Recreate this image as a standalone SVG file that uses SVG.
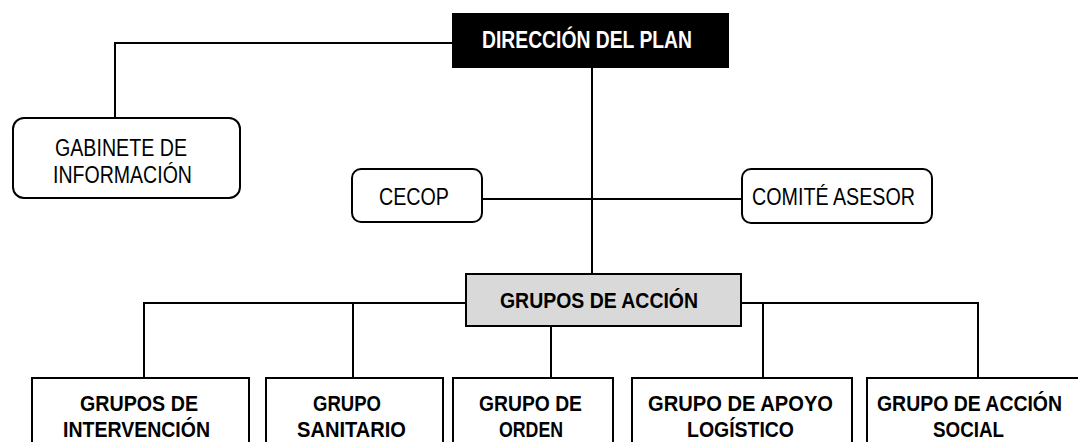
<svg xmlns="http://www.w3.org/2000/svg" width="1078" height="442" viewBox="0 0 1078 442">
<style>
.box{fill:#fff;stroke:#000;stroke-width:2}
.gray{fill:#d9d9d9;stroke:#000;stroke-width:2}
.blk{fill:#000;stroke:#000;stroke-width:2}
.t{font-family:"Liberation Sans",Arial,sans-serif;font-size:23px;fill:#000}
.b{font-family:"Liberation Sans",Arial,sans-serif;font-size:22px;font-weight:bold;fill:#000}
.w{font-family:"Liberation Sans",Arial,sans-serif;font-size:23px;font-weight:bold;fill:#fff}
.c{fill:none;stroke:#000;stroke-width:2}
</style>
<rect width="1078" height="442" fill="#fff"/>
<g id="connectors">
<polyline class="c" points="453,43 115,43 115,118"/>
<line class="c" x1="592" y1="67" x2="592" y2="274"/>
<line class="c" x1="482" y1="199" x2="742" y2="199"/>
<polyline class="c" points="466,303 144,303 144,378"/>
<line class="c" x1="353" y1="303" x2="353" y2="378"/>
<line class="c" x1="551" y1="326" x2="551" y2="378"/>
<polyline class="c" points="741,303 978,303 978,378"/>
<line class="c" x1="763" y1="303" x2="763" y2="378"/>
</g>
<g id="direccion">
<rect class="blk" x="453" y="14" width="275" height="53"/>
<text class="w" x="482" y="47.5" textLength="210" lengthAdjust="spacingAndGlyphs">DIRECCIÓN DEL PLAN</text>
</g>
<g id="gabinete">
<rect class="box" x="13" y="118" width="227" height="80" rx="11"/>
<text class="t" x="55" y="156" textLength="132" lengthAdjust="spacingAndGlyphs">GABINETE DE</text>
<text class="t" x="53" y="182.5" textLength="139" lengthAdjust="spacingAndGlyphs">INFORMACIÓN</text>
</g>
<g id="cecop">
<rect class="box" x="352" y="169" width="130" height="53" rx="9"/>
<text class="t" x="379" y="204.5" textLength="70" lengthAdjust="spacingAndGlyphs">CECOP</text>
</g>
<g id="comite">
<rect class="box" x="742" y="169" width="190" height="54" rx="9"/>
<text class="t" x="752" y="204.5" textLength="163" lengthAdjust="spacingAndGlyphs">COMITÉ ASESOR</text>
</g>
<g id="grupos-accion">
<rect class="gray" x="466" y="274" width="275" height="52"/>
<text class="b" x="500" y="307.5" textLength="198" lengthAdjust="spacingAndGlyphs">GRUPOS DE ACCIÓN</text>
</g>
<g id="intervencion">
<rect class="box" x="32" y="378" width="217" height="80"/>
<text class="b" x="80" y="410.5" textLength="118" lengthAdjust="spacingAndGlyphs">GRUPOS DE</text>
<text class="b" x="63" y="437" textLength="147" lengthAdjust="spacingAndGlyphs">INTERVENCIÓN</text>
</g>
<g id="sanitario">
<rect class="box" x="266" y="378" width="177" height="80"/>
<text class="b" x="313" y="410.5" textLength="68" lengthAdjust="spacingAndGlyphs">GRUPO</text>
<text class="b" x="297" y="437" textLength="109" lengthAdjust="spacingAndGlyphs">SANITARIO</text>
</g>
<g id="orden">
<rect class="box" x="453" y="378" width="160" height="80"/>
<text class="b" x="479" y="410.5" textLength="103" lengthAdjust="spacingAndGlyphs">GRUPO DE</text>
<text class="b" x="499" y="437" textLength="64" lengthAdjust="spacingAndGlyphs">ORDEN</text>
</g>
<g id="logistico">
<rect class="box" x="632" y="378" width="220" height="80"/>
<text class="b" x="648" y="410.5" textLength="185" lengthAdjust="spacingAndGlyphs">GRUPO DE APOYO</text>
<text class="b" x="687" y="437" textLength="107" lengthAdjust="spacingAndGlyphs">LOGÍSTICO</text>
</g>
<g id="social">
<rect class="box" x="867" y="378" width="220" height="80"/>
<text class="b" x="877" y="410.5" textLength="185" lengthAdjust="spacingAndGlyphs">GRUPO DE ACCIÓN</text>
<text class="b" x="933" y="437" textLength="71" lengthAdjust="spacingAndGlyphs">SOCIAL</text>
</g>
</svg>
